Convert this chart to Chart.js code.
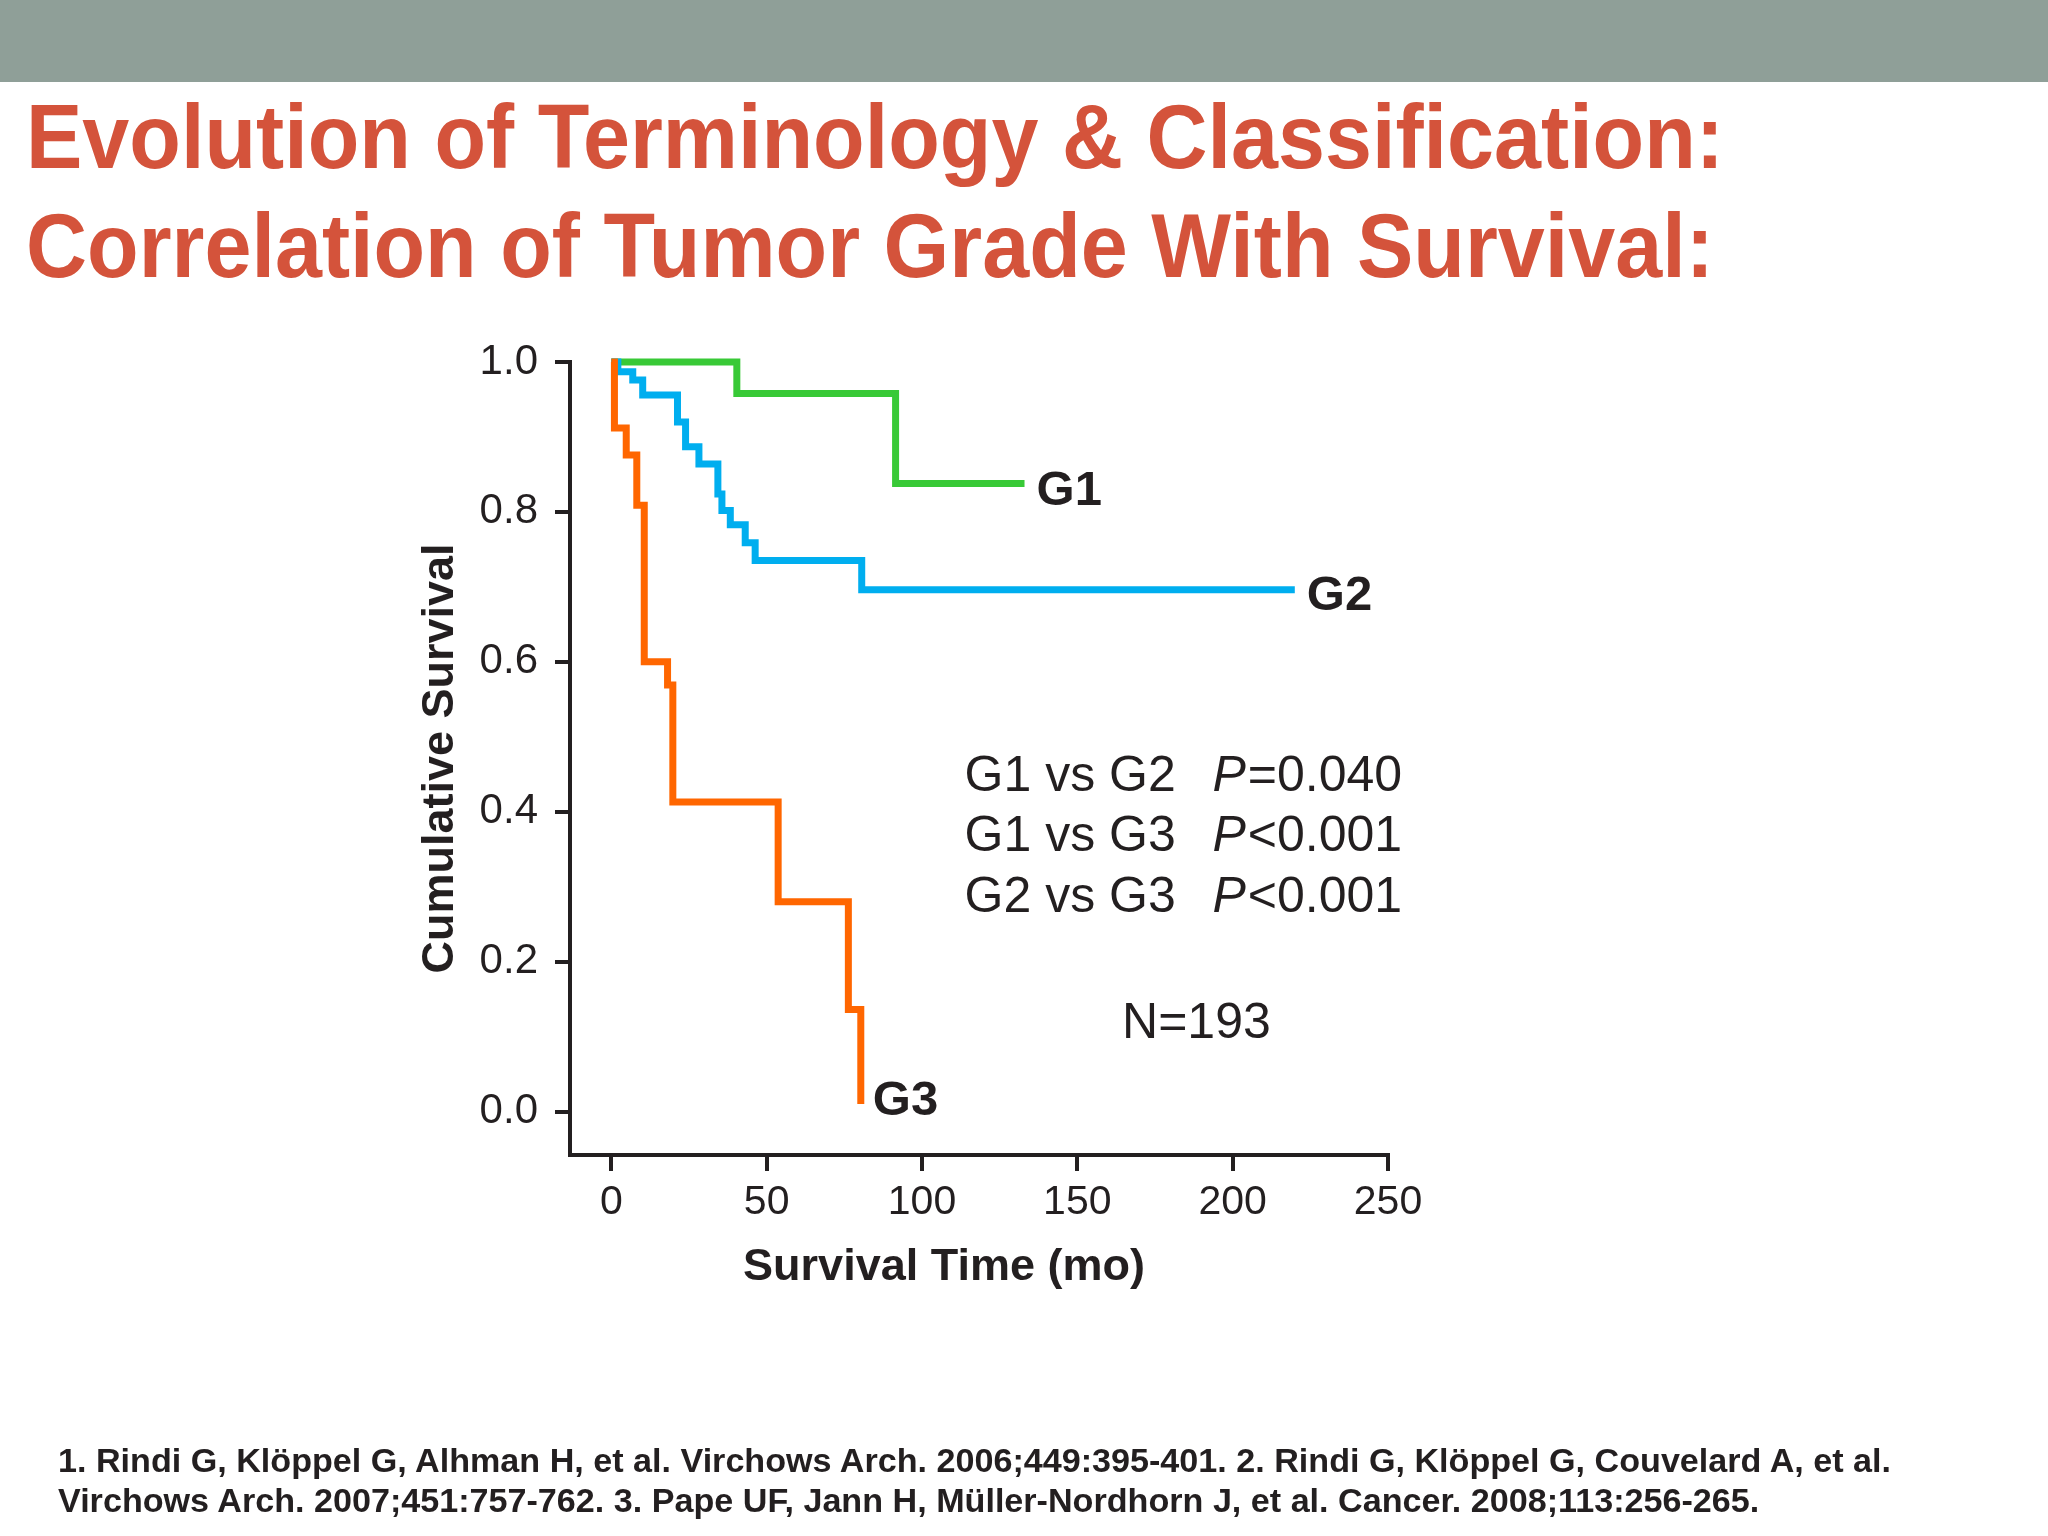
<!DOCTYPE html>
<html>
<head>
<meta charset="utf-8">
<script src="https://cdn.jsdelivr.net/npm/chart.js@4.4.1/dist/chart.umd.min.js"></script>
<style>
  html, body { margin: 0; padding: 0; background: #fff; }
  body { width: 2048px; height: 1536px; position: relative; overflow: hidden; font-family: "Liberation Sans", Arial, sans-serif; }
  .bar { position: absolute; left: 0; top: 0; width: 2048px; height: 82px; background: #8f9f98; }
  .title { position: absolute; left: 26px; top: 83px; color: #d4533b; font-weight: bold; font-size: 90px; line-height: 109px; white-space: nowrap; }
  .refs { position: absolute; left: 58px; top: 1441px; color: #231f20; font-weight: bold; font-size: 33px; line-height: 40px; white-space: nowrap; }
  .title span, .refs span { display: inline-block; transform-origin: 0 0; }
  canvas { position: absolute; left: 0; top: 0; }
</style>
</head>
<body>
<div class="bar"></div>
<div class="title" id="title">
  <span>Evolution of Terminology &amp; Classification:</span><br>
  <span>Correlation of Tumor Grade With Survival:</span>
</div>
<canvas id="km" width="2048" height="1536"></canvas>
<div class="refs" id="refs">
  <span>1. Rindi G, Klöppel G, Alhman H, et al. Virchows Arch. 2006;449:395-401. 2. Rindi G, Klöppel G, Couvelard A, et al.</span><br>
  <span>Virchows Arch. 2007;451:757-762. 3. Pape UF, Jann H, Müller-Nordhorn J, et al. Cancer. 2008;113:256-265.</span>
</div>
<script>
// Kaplan-Meier steps (months, cumulative survival)
const g1Time = [0, 40.4, 91.5, 133];
const g1Surv = [1.0, 0.958, 0.838, 0.838];
const g2Time = [0, 2.1, 6.9, 10.1, 21.3, 23.9, 28.2, 34.3, 35.6, 38.3, 43.1, 46.3, 80.6, 220];
const g2Surv = [1.0, 0.987, 0.976, 0.956, 0.92, 0.887, 0.864, 0.824, 0.802, 0.783, 0.759, 0.735, 0.696, 0.696];
const g3Time = [0, 1, 4.8, 8.2, 10.6, 18.1, 19.8, 53.7, 76.3, 80.3];
const g3Surv = [1.0, 0.912, 0.876, 0.809, 0.6, 0.569, 0.413, 0.28, 0.136, 0.01];

const groups = ['G1', 'G2', 'G3'];
const xTicks = [0, 50, 100, 150, 200, 250];
const yTicks = [0, 0.2, 0.4, 0.6, 0.8, 1.0];
const comparisons = ['G1 vs G2', 'G1 vs G3', 'G2 vs G3'];
const pSigns = ['=', '<', '<'];
const pValues = ['0.040', '0.001', '0.001'];
const sampleSize = 'N=193';

const ink = '#231f20';
const fontFamily = '"Liberation Sans", Arial, sans-serif';
const colors = ['#38c936', '#00aeef', '#ff6600'];

// where the free text sits, in axis units
const labelDy = [22, 20, 11];
const statX = 113.7, statPX = 193.5, statRowY = [0.428, 0.347, 0.266];
const nX = 164.4, nY = 0.098;

function steps(t, s) {
  return t.map((v, i) => ({ x: v, y: s[i] }));
}

const annotate = {
  id: 'annotate',
  afterDatasetsDraw(chart) {
    const { ctx, chartArea, scales: { x, y } } = chart;
    ctx.save();
    ctx.fillStyle = ink;
    ctx.textBaseline = 'alphabetic';

    ctx.font = 'bold 49px ' + fontFamily;
    ctx.textAlign = 'left';
    const series = [[g1Time, g1Surv], [g2Time, g2Surv], [g3Time, g3Surv]];
    series.forEach(([t, s], i) => {
      ctx.fillText(groups[i], x.getPixelForValue(t[t.length - 1]) + 12, y.getPixelForValue(s[s.length - 1]) + labelDy[i]);
    });

    comparisons.forEach((c, i) => {
      const py = y.getPixelForValue(statRowY[i]);
      ctx.font = '50px ' + fontFamily;
      ctx.fillText(c, x.getPixelForValue(statX), py);
      ctx.font = 'italic 50px ' + fontFamily;
      const px = x.getPixelForValue(statPX);
      ctx.fillText('P', px, py);
      const w = ctx.measureText('P').width;
      ctx.font = '50px ' + fontFamily;
      ctx.fillText(pSigns[i] + pValues[i], px + w + 2, py);
    });
    ctx.fillText(sampleSize, x.getPixelForValue(nX), y.getPixelForValue(nY));

    ctx.font = 'bold 45px ' + fontFamily;
    ctx.textAlign = 'center';
    ctx.fillText('Survival Time (mo)', chartArea.left + 374, chartArea.bottom + 125);
    ctx.restore();
  }
};

new Chart(document.getElementById('km'), {
  type: 'line',
  data: {
    datasets: [
      { label: 'G3', data: steps(g3Time, g3Surv), borderColor: colors[2] },
      { label: 'G2', data: steps(g2Time, g2Surv), borderColor: colors[1] },
      { label: 'G1', data: steps(g1Time, g1Surv), borderColor: colors[0] }
    ].map(d => Object.assign(d, { stepped: true, borderWidth: 7, pointRadius: 0, fill: false, clip: false, borderCapStyle: 'butt' }))
  },
  options: {
    responsive: false,
    animation: false,
    devicePixelRatio: 1,
    layout: { padding: { left: 400, top: 362, right: 660, bottom: 321 } },
    plugins: { legend: { display: false }, tooltip: { enabled: false } },
    scales: {
      x: {
        type: 'linear',
        min: -13.3,
        max: 250,
        afterFit: s => { s.height = 60; },
        afterBuildTicks: s => { s.ticks = xTicks.map(v => ({ value: v })); },
        border: { display: true, color: ink, width: 4 },
        grid: { drawOnChartArea: false, drawTicks: true, tickLength: 16, color: ink, lineWidth: 4 },
        ticks: { color: ink, font: { family: fontFamily, size: 41 }, padding: 7, maxRotation: 0 }
      },
      y: {
        type: 'linear',
        min: -0.058,
        max: 1.0,
        afterFit: s => { s.width = 170; },
        afterBuildTicks: s => { s.ticks = yTicks.map(v => ({ value: v })); },
        border: { display: true, color: ink, width: 4 },
        grid: { drawOnChartArea: false, drawTicks: true, tickLength: 15, color: ink, lineWidth: 4 },
        ticks: { color: ink, font: { family: fontFamily, size: 42 }, padding: 17, callback: v => v.toFixed(1) },
        title: { display: true, text: 'Cumulative Survival', color: ink, font: { family: fontFamily, size: 45, weight: 'bold' }, padding: { top: 14, bottom: 0 } }
      }
    }
  },
  plugins: [annotate]
});

// the slide's faces run a little narrower than Liberation Sans; squeeze to the measured line widths
function fit(id, target) {
  const spans = document.querySelectorAll('#' + id + ' span');
  const k = target / spans[0].getBoundingClientRect().width;
  spans.forEach(s => { s.style.transform = 'scaleX(' + k + ')'; });
}
fit('title', 1698);
fit('refs', 1833);
</script>
</body>
</html>
